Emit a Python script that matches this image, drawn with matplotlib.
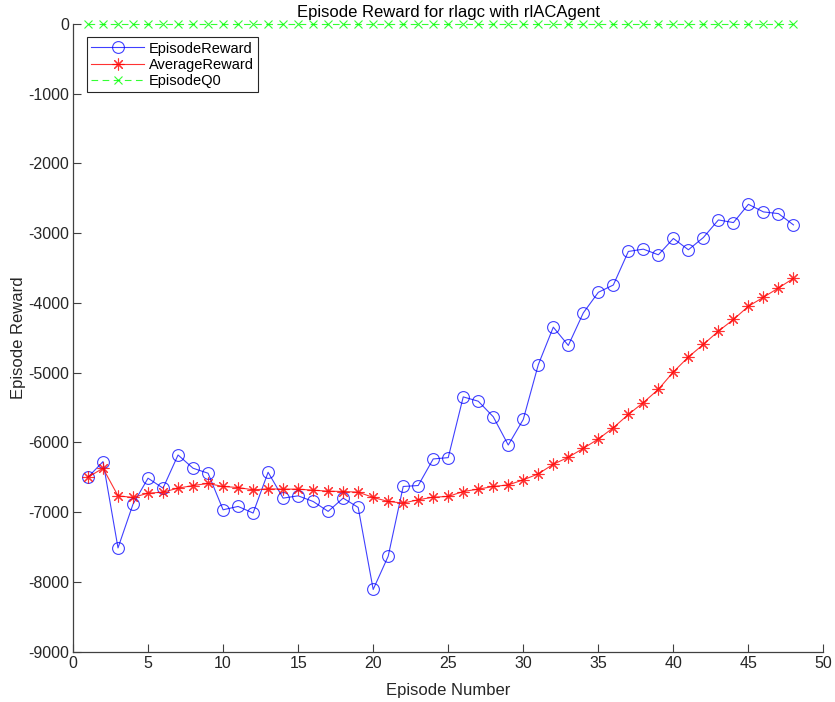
import matplotlib
matplotlib.use("Agg")
import matplotlib.pyplot as plt

plt.rcParams["font.family"] = ["Liberation Sans", "DejaVu Sans"]
plt.rcParams["axes.unicode_minus"] = False

episodes = list(range(1, 49))

episode_reward = [
    -6500, -6276, -7514, -6886, -6514, -6657, -6181, -6371, -6443, -6967,
    -6919, -7014, -6429, -6800, -6767, -6848, -6990, -6800, -6933, -8110,
    -7633, -6633, -6619, -6238, -6219, -5348, -5410, -5633, -6038, -5671,
    -4886, -4348, -4610, -4143, -3848, -3743, -3262, -3229, -3310, -3076,
    -3238, -3062, -2810, -2848, -2586, -2695, -2719, -2881,
]

average_reward = [
    -6500, -6371, -6767, -6790, -6729, -6714, -6657, -6619, -6590, -6633,
    -6648, -6681, -6667, -6671, -6671, -6686, -6700, -6705, -6714, -6790,
    -6848, -6871, -6824, -6786, -6776, -6705, -6671, -6633, -6610, -6538,
    -6452, -6314, -6214, -6086, -5952, -5790, -5600, -5429, -5240, -4990,
    -4776, -4595, -4405, -4238, -4048, -3919, -3786, -3648,
]

episode_q0 = [0] * 48

x_ticks = list(range(0, 51, 5))
y_ticks = list(range(-9000, 1, 1000))

fig = plt.figure(figsize=(8.35, 7.02), dpi=100)
ax = fig.add_axes([0.0874, 0.0719, 0.8988, 0.8939])

ax.plot(episodes, episode_reward, color=(0, 0, 1), linewidth=0.8, marker="o",
        markersize=8.5, markerfacecolor="none", markeredgewidth=0.8,
        label="EpisodeReward", alpha=0.75)
ax.plot(episodes, average_reward, color=(1, 0, 0), linewidth=0.8,
        marker=(8, 2, 0), markersize=8.5, markeredgewidth=0.8,
        label="AverageReward", alpha=0.8)
ax.plot(episodes, episode_q0, color=(0, 1, 0), linewidth=0.8, linestyle="--",
        dashes=(6, 4), marker="x", markersize=6, markeredgewidth=0.8,
        label="EpisodeQ0", alpha=0.8, clip_on=False)

ax.set_xlim(0, 50)
ax.set_ylim(-9000, 0)
ax.set_xticks(x_ticks)
ax.set_yticks(y_ticks)

for side in ("top", "right"):
    ax.spines[side].set_visible(False)
for side in ("left", "bottom"):
    ax.spines[side].set_color("#404040")
    ax.spines[side].set_linewidth(0.9)

ax.tick_params(direction="in", length=6, width=0.8, color="#404040",
               labelsize=11.5, labelcolor="#262626", pad=3)

ax.set_title("Episode Reward for rlagc with rlACAgent", fontsize=12,
             color="#000000", pad=5)
ax.set_xlabel("Episode Number", fontsize=12, color="#262626", labelpad=9)
ax.set_ylabel("Episode Reward", fontsize=12, color="#262626", labelpad=1)

leg = ax.legend(loc="upper left", bbox_to_anchor=(0.0187, 0.979), fontsize=10.5,
                handlelength=3.6, handletextpad=0.35, borderpad=0.3,
                labelspacing=0.15, fancybox=False, framealpha=1,
                edgecolor="#262626", borderaxespad=0)
leg.get_frame().set_linewidth(0.8)

fig.savefig("out.png", dpi=100)
